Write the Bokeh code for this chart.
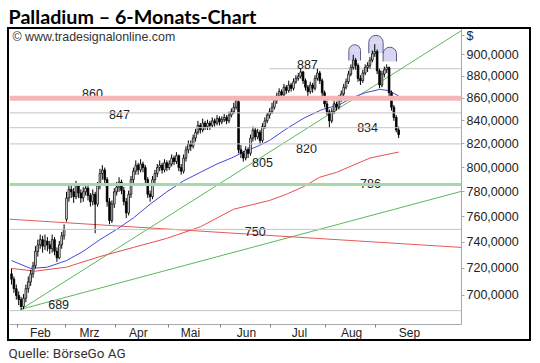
import math
from bokeh.plotting import figure
from bokeh.models import Range1d, FixedTicker, Span, Label, Title, ColumnDataSource
from bokeh.core.properties import value
from bokeh.embed import file_html
from bokeh.resources import INLINE

# ---------------- data (daily palladium candles, trading-day index) ----------------
opens = [716,712,705,700,697,692,698,705,710,716,
         722,733,738,742,737,741,738,735,742,733,
         728,738,745,758,775,782,780,776,785,779,
         775,780,783,777,772,778,770,785,795,798,
         790,772,757,770,780,784,788,781,772,763,
         778,790,797,802,798,803,800,790,778,776,
         790,795,800,802,798,804,800,803,808,805,
         810,800,797,808,815,820,818,825,830,836,
         832,838,835,838,836,840,838,842,839,841,
         843,840,845,848,852,857,815,812,808,815,
         812,825,832,826,830,823,835,840,845,848,
         852,858,862,866,863,870,867,872,869,875,
         878,880,884,876,870,866,872,869,878,883,
         876,865,855,848,840,848,855,852,860,864,
         870,875,882,888,895,890,878,876,883,888,
         890,895,901,903,885,872,882,886,888,865,
         852,843,832]
highs = [720,714,708,703,699,701,708,714,719,725,
         737,742,746,745,746,744,741,746,744,736,
         741,748,754,780,787,786,783,789,787,782,
         784,787,785,779,782,780,788,799,802,800,
         792,775,773,783,788,792,790,784,775,781,
         793,800,806,804,807,805,802,792,781,793,
         798,803,806,804,807,806,806,811,810,813,
         811,803,811,818,823,823,828,833,840,838,
         842,840,841,840,843,842,845,844,844,846,
         845,848,851,856,862,859,819,814,818,817,
         828,835,834,833,832,838,843,847,851,856,
         861,865,869,868,873,872,876,874,878,881,
         883,887,885,878,872,875,874,881,887,885,
         878,867,858,850,851,858,857,863,867,873,
         878,885,891,900,897,892,881,886,891,893,
         898,904,910,905,887,885,889,891,889,867,
         854,845,835]
lows = [708,702,697,693,689,690,695,702,707,713,
        720,729,735,732,734,733,731,732,730,725,
        727,735,742,756,772,775,771,774,775,771,
        772,777,773,768,769,747,768,782,790,786,
        768,754,755,767,777,780,778,769,759,761,
        775,787,794,794,796,796,787,775,772,774,
        787,792,797,795,796,797,798,801,802,803,
        797,794,795,805,812,814,816,822,828,829,
        830,832,832,832,834,835,836,836,837,839,
        837,838,843,846,850,812,808,805,806,808,
        810,822,823,824,820,821,833,838,842,846,
        850,855,859,860,861,864,865,866,867,873,
        876,878,873,867,862,864,865,867,876,873,
        862,852,845,834,838,846,849,850,857,862,
        868,873,880,886,886,875,872,874,881,884,
        887,893,898,882,869,870,879,883,862,849,
        840,830,825]
closes = [712,705,700,697,692,698,705,710,716,722,
          733,738,742,737,741,738,735,742,733,728,
          738,745,750,775,782,780,776,785,779,775,
          780,783,777,772,778,770,785,795,798,790,
          772,757,770,780,784,788,781,772,763,778,
          790,797,802,798,803,800,790,778,776,790,
          795,800,802,798,804,800,803,808,805,810,
          800,797,808,815,820,818,825,830,836,832,
          838,835,838,836,840,838,842,839,841,843,
          840,845,848,852,858,815,812,808,815,812,
          825,832,826,830,823,835,840,845,848,852,
          858,862,866,863,870,867,872,869,875,878,
          880,884,876,870,866,872,869,878,883,876,
          865,855,848,840,848,855,852,860,864,870,
          875,882,888,895,890,878,876,883,888,890,
          895,901,903,885,872,882,886,888,865,852,
          843,832,828]

# moving averages
ma_blue_x = [0, 8, 15, 23, 30, 37, 44, 51, 58, 65, 72, 79, 86, 92, 97, 103, 108, 115, 122, 130, 137, 142, 148, 154, 158, 162]
ma_blue_y = [726, 720, 721, 726, 733, 742, 750, 759, 770, 780, 789, 796, 803, 808, 813, 818, 823, 833, 842, 850, 854, 860, 865, 868, 867, 862]
ma_red_x = [0, 10, 23, 37, 51, 65, 79, 93, 108, 115, 122, 129, 136, 143, 150, 157, 162]
ma_red_y = [720, 718, 721, 729, 736, 743, 752, 766, 773, 778, 784, 792, 796, 802, 808, 811, 813]

# trend lines (start / end)
trend_steep_x = [4, 188.3]
trend_steep_y = [690, 923]
trend_flat_x = [4, 188.3]
trend_flat_y = [690, 780.4]
trend_red_x = [-0.85, 188.3]
trend_red_y = [758, 736]

# horizontal levels
gray_levels = [847, 834, 820, 750, 689]
level_887 = 887
level_887_start = 108
level_860 = 860
level_786 = 786
level_texts = ["860", "847", "887", "834", "805", "820", "786", "750", "689"]
level_text_x = [33.9, 45.2, 123.8, 149.0, 105.0, 123.4, 150.2, 102.0, 19.7]
level_text_y = [864.1, 845.4, 890.6, 834.3, 804.6, 815.7, 787.1, 748.5, 693.2]

# head & shoulders domes
hs_x = [143.6, 152.5, 158.3]
hs_center = [903.9, 911.6, 900.8]
hs_base = [894.7, 901.3, 893.7]
hs_r = [2.45, 3.0, 2.8]

# axes
y_ticks = [700, 720, 740, 760, 780, 800, 820, 840, 860, 880, 900, 917.8]
y_tick_labels = ["700,0000", "720,0000", "740,0000", "760,0000", "780,0000", "800,0000",
                 "820,0000", "840,0000", "860,0000", "880,0000", "900,0000", "$"]
month_labels = ["Feb", "Mrz", "Apr", "Mai", "Jun", "Jul", "Aug", "Sep"]
month_label_x = [12.1, 32.6, 53.1, 74.9, 98.3, 120.5, 142.3, 166.5]
month_bounds = [2.5, 22.5, 43.5, 65.5, 87.5, 108.5, 131.5, 152.5]

# ---------------- figure ----------------
frame_css = """
:host { position: relative; }
:host::after { content: ""; position: absolute; left: 7px; top: 27px; width: 520px; height: 310px;
               border: 2px solid #000000; pointer-events: none; box-sizing: content-box; }
"""
p = figure(width=540, height=363, output_backend="svg", toolbar_location=None,
           x_range=Range1d(-0.85, 188.3), y_range=Range1d(679.1, 925.0),
           y_axis_type="log", y_axis_location="right",
           min_border_left=9, min_border_right=79, min_border_top=28, min_border_bottom=39,
           background_fill_color="white", border_fill_color="white")
p.stylesheets = [frame_css]
p.outline_line_color = None
p.grid.visible = False

p.title.text = "Palladium – 6-Monats-Chart"
p.title.text_font = "Lato"
p.title.text_font_style = "bold"
p.title.text_font_size = "19.7px"
p.title.text_color = "black"
p.title.align = "left"
p.title.offset = -1
p.title.standoff = 1
p.title.vertical_align = "bottom"

p.add_layout(Title(text="Quelle: BörseGo AG", text_font="Roboto",
                   text_font_size="13.5px", text_font_style="normal", text_color="#333333",
                   align="left", offset=-1, standoff=0), "below")

ya = p.yaxis[0]
ya.ticker = FixedTicker(ticks=y_ticks)
ya.major_label_overrides = {t: l for t, l in zip(y_ticks, y_tick_labels)}
ya.axis_line_color = "#a8a8a8"
ya.major_tick_line_color = "#a8a8a8"
ya.major_tick_in = 0
ya.major_tick_out = 3
ya.minor_tick_line_color = None
ya.major_label_standoff = 2
ya.major_label_text_font = "Liberation Sans"
ya.major_label_text_font_size = "12.5px"
ya.major_label_text_color = "#222222"

xa = p.xaxis[0]
xa.ticker = FixedTicker(ticks=month_label_x, minor_ticks=month_bounds)
xa.major_label_overrides = {t: l for t, l in zip(month_label_x, month_labels)}
xa.axis_line_color = "#a8a8a8"
xa.major_tick_line_color = None
xa.major_tick_in = 0
xa.major_tick_out = 0
xa.minor_tick_line_color = "#808080"
xa.minor_tick_in = 0
xa.minor_tick_out = 3
xa.major_label_standoff = -2
xa.major_label_text_font = "Liberation Sans"
xa.major_label_text_font_size = "12px"
xa.major_label_text_color = "#222222"

# level lines
p.add_layout(Span(location=level_860, dimension="width", line_color="#f4b6b6", line_width=5))
p.add_layout(Span(location=level_786, dimension="width", line_color="#a6d9a6", line_width=3))
for lv in gray_levels:
    p.add_layout(Span(location=lv, dimension="width", line_color="#c4c4c4", line_width=1))
p.ray(x=[level_887_start], y=[level_887], length=0, angle=0, line_color="#c4c4c4", line_width=1)

# trend lines and moving averages
p.line(trend_steep_x, trend_steep_y, line_color="#5cb85c", line_width=1)
p.line(trend_flat_x, trend_flat_y, line_color="#5cb85c", line_width=1)
p.line(trend_red_x, trend_red_y, line_color="#e45a5a", line_width=1)
p.line(ma_red_x, ma_red_y, line_color="#e65050", line_width=1)
p.line(ma_blue_x, ma_blue_y, line_color="#4646dc", line_width=1)

# head & shoulders domes
hs_left = [x - r for x, r in zip(hs_x, hs_r)]
hs_right = [x + r for x, r in zip(hs_x, hs_r)]
p.quad(left=hs_left, right=hs_right, top=hs_center, bottom=hs_base,
       fill_color="#d6d6f4", line_color=None)
p.wedge(x=hs_x, y=hs_center, radius=hs_r, start_angle=0, end_angle=math.pi,
        fill_color="#d6d6f4", line_color=None)
p.arc(x=hs_x, y=hs_center, radius=hs_r, start_angle=0, end_angle=math.pi,
      line_color="#5a5a86", line_width=1)
p.segment(x0=hs_left, y0=hs_base, x1=hs_left, y1=hs_center, line_color="#5a5a86", line_width=1)
p.segment(x0=hs_right, y0=hs_base, x1=hs_right, y1=hs_center, line_color="#5a5a86", line_width=1)

# candles
days = list(range(len(closes)))
src = ColumnDataSource(dict(
    x=days, o=opens, h=highs, l=lows, c=closes,
    top=[max(o, c) for o, c in zip(opens, closes)],
    bot=[min(o, c) for o, c in zip(opens, closes)],
    col=["white" if c >= o else "black" for o, c in zip(opens, closes)],
))
p.segment(x0="x", y0="l", x1="x", y1="h", source=src, line_color="black", line_width=1)
p.vbar(x="x", width=0.7, top="top", bottom="bot", source=src,
       fill_color="col", line_color="black", line_width=0.8)

# level texts
p.text(x=level_text_x, y=level_text_y, text=level_texts, text_align="center",
       text_baseline="middle", text_font=value("Liberation Sans"), text_font_size="12.5px",
       text_color="#222222")

# copyright note inside the plot area
p.add_layout(Label(x=3, y=288, x_units="screen", y_units="screen",
                   text="© www.tradesignalonline.com", text_font="Liberation Sans",
                   text_font_size="12.4px", text_color="#333333",
                   text_baseline="middle", text_align="left"))

open("out.html", "w").write(file_html(p, INLINE))
